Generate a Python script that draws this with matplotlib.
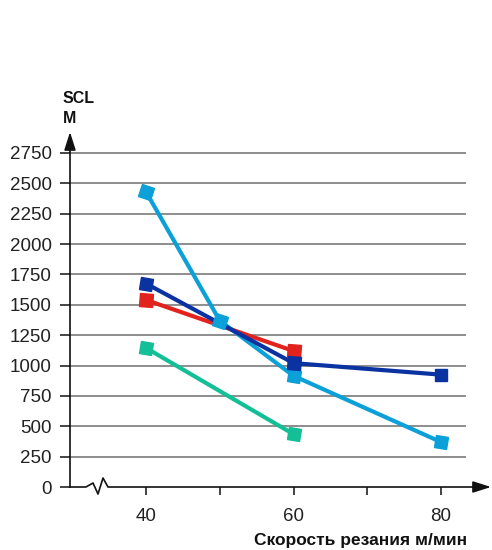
import numpy as np
import matplotlib
matplotlib.use("Agg")
import matplotlib.pyplot as plt
from matplotlib.markers import MarkerStyle
from matplotlib.transforms import Affine2D

plt.rcParams['font.family'] = ['Liberation Sans', 'DejaVu Sans']

# Cutting speed (m/min) vs SCL (m) for four tool grades
series = [
    # (speeds, values, colour)
    ([40, 60], [1540, 1120], '#e2221c'),
    ([40, 50, 60, 80], [2430, 1370, 915, 370], '#0ca0d8'),
    ([40, 60, 80], [1675, 1020, 925], '#0a32a0'),
    ([40, 60], [1145, 435], '#12bf97'),
]
y_ticks = [0, 250, 500, 750, 1000, 1250, 1500, 1750, 2000, 2250, 2500, 2750]
x_ticks = [40, 50, 60, 70, 80]
x_labels = ['40', '', '60', '', '80']

W, H = 492, 550
fig = plt.figure(figsize=(W / 100, H / 100), dpi=100)

# axes box in pixels
left_px, right_px, top_px, bottom_px = 70, 491, 132, 487
ax = fig.add_axes([left_px / W, 1 - bottom_px / H,
                   (right_px - left_px) / W, (bottom_px - top_px) / H])

px_per_x = 7.375           # pixels per 1 m/min
x_at_40 = 146
xmin = 40 - (x_at_40 - left_px) / px_per_x
xmax = 40 + (right_px - x_at_40) / px_per_x
units_per_px = 2750 / (bottom_px - 153)
ymax = (bottom_px - top_px) * units_per_px
ax.set_xlim(xmin, xmax)
ax.set_ylim(0, ymax)

for s in ax.spines.values():
    s.set_visible(False)


def px2x(p):
    return 40 + (p - x_at_40) / px_per_x


def px2y(p):
    return (bottom_px - p) * units_per_px


# horizontal grid lines
grid_right = px2x(466)
for yv in y_ticks[1:]:
    ax.plot([xmin, grid_right], [yv, yv], color='#6f6f6f', lw=1.1, zorder=1,
            solid_capstyle='butt')

arrow_style = '-|>,head_length=1.1,head_width=0.35'

# y axis with arrow
ax.plot([xmin, xmin], [0, px2y(146)], color='#111111', lw=1.2,
        clip_on=False, zorder=3)
ax.annotate('', xy=(xmin, ymax), xytext=(xmin, px2y(150)),
            arrowprops=dict(arrowstyle=arrow_style, color='#111111', lw=1.2,
                            shrinkA=0, shrinkB=0),
            annotation_clip=False, zorder=4)

# x axis with a break mark and arrow
zig_px = [(70, 487), (86, 487), (93, 483), (98, 494), (103, 478), (108, 487),
          (480, 487)]
ax.plot([px2x(a) for a, b in zig_px], [px2y(b) for a, b in zig_px],
        color='#111111', lw=1.2, clip_on=False, zorder=3)
ax.annotate('', xy=(xmax, 0), xytext=(px2x(474), 0),
            arrowprops=dict(arrowstyle=arrow_style, color='#111111', lw=1.2,
                            shrinkA=0, shrinkB=0),
            annotation_clip=False, zorder=4)

# ticks
ax.set_yticks(y_ticks)
ax.set_yticklabels([str(v) for v in y_ticks])
ax.set_xticks(x_ticks)
ax.set_xticklabels(x_labels)
ax.tick_params(axis='y', direction='out', length=7, width=1.1, color='#111111',
               labelsize=13.5, labelcolor='#222222', pad=6)
ax.tick_params(axis='x', direction='out', length=6, width=1.1, color='#111111',
               labelsize=13.5, labelcolor='#222222', pad=9)

# data lines with squares turned along the line direction
fig.canvas.draw()
to_disp = ax.transData.transform
for xs, ys, col in series:
    ax.plot(xs, ys, color=col, lw=3.0, zorder=5, solid_capstyle='butt')
    pts = to_disp(np.column_stack([xs, ys]))
    n = len(xs)
    for i in range(n):
        a = pts[max(i - 1, 0)]
        b = pts[min(i + 1, n - 1)]
        ang = np.degrees(np.arctan2(b[1] - a[1], b[0] - a[0])) * 0.3
        m = MarkerStyle('s', transform=Affine2D().rotate_deg(ang))
        ax.plot([xs[i]], [ys[i]], marker=m, color=col, markersize=9,
                linestyle='none', zorder=6, clip_on=False)

# axis titles
fig.text(63 / W, 1 - 103 / H, 'SCL', fontsize=11.5, fontweight='bold',
         ha='left', va='baseline', color='#111111')
fig.text(63 / W, 1 - 123 / H, 'M', fontsize=11.5, fontweight='bold',
         ha='left', va='baseline', color='#111111')
fig.text(467 / W, 1 - 541 / H, 'Скорость резания м/мин', fontsize=12.5,
         fontweight='bold', ha='right', va='center', color='#111111')

fig.savefig('out.png', dpi=100)
